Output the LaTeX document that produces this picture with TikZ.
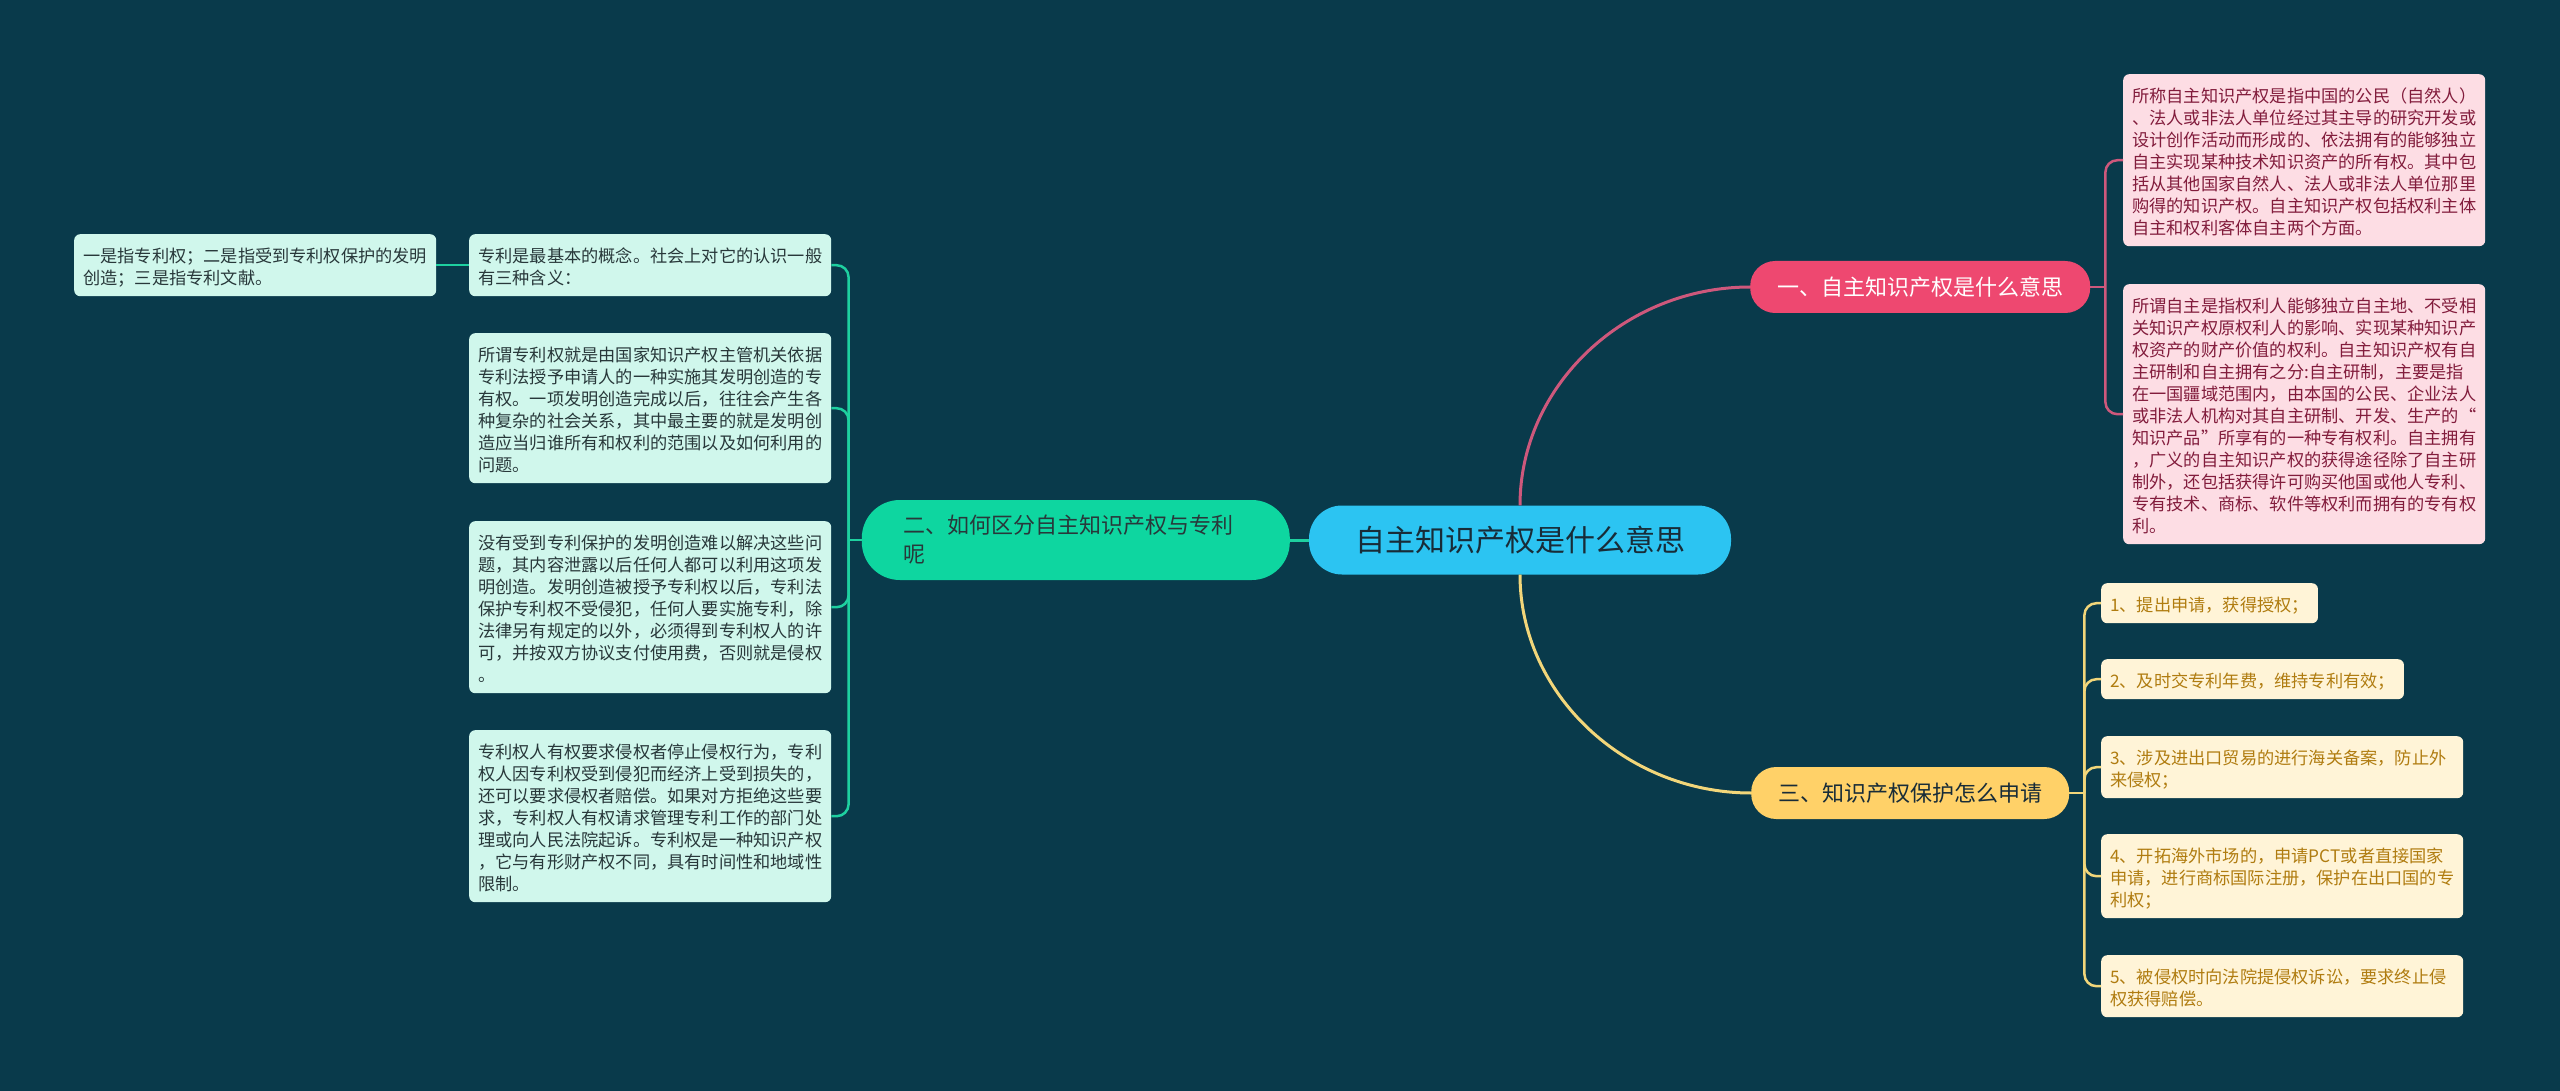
\documentclass[tikz,border=0pt]{standalone}
\usepackage{fontspec}
\setmainfont{Noto Sans CJK SC}
\usepackage{tikz}
\usetikzlibrary{positioning}
\definecolor{mapbg}{RGB}{9,58,75}
\definecolor{rootblue}{RGB}{44,196,242}
\definecolor{rootink}{RGB}{24,44,56}
\definecolor{topicpink}{RGB}{238,72,112}
\definecolor{topicgreen}{RGB}{14,214,160}
\definecolor{topicyellow}{RGB}{255,209,104}
\definecolor{pinkleaf}{RGB}{253,221,228}
\definecolor{pinkink}{RGB}{130,28,60}
\definecolor{pinkline}{RGB}{206,88,124}
\definecolor{mintleaf}{RGB}{208,247,236}
\definecolor{mintink}{RGB}{40,56,58}
\definecolor{mintline}{RGB}{30,208,160}
\definecolor{sandleaf}{RGB}{255,244,215}
\definecolor{sandink}{RGB}{176,124,16}
\definecolor{sandline}{RGB}{242,214,122}
\newcommand{\leafstrutT}{\rule{0pt}{19pt}}
\newcommand{\leafstrutB}{\rule[-3pt]{0pt}{3pt}}

\begin{document}
\begin{tikzpicture}[x=1pt, y=-1pt,
    rootnode/.style={fill=rootblue, text=rootink, rounded corners=33pt, inner xsep=46pt, inner ysep=0pt, minimum height=69pt, font=\fontsize{30}{36}\selectfont},
    topic/.style={rounded corners=25pt, inner xsep=27pt, inner ysep=0pt, minimum height=52pt, font=\fontsize{22}{29}\selectfont},
    leaf/.style={rounded corners=6pt, inner xsep=9pt, inner ysep=9pt, align=left, anchor=north west, font=\fontsize{17.2}{22}\selectfont, execute at begin node=\leafstrutT, execute at end node=\leafstrutB},
    wide/.style={text width=344pt},
    pinkleaf/.style={leaf, wide, fill=pinkleaf, text=pinkink},
    mintleaf/.style={leaf, wide, fill=mintleaf, text=mintink},
    sandleaf/.style={leaf, fill=sandleaf, text=sandink},
    link/.style={line width=3pt},
    twig/.style={line width=2.5pt, rounded corners=12pt}]

    \fill[mapbg] (0,0) rectangle (2560,1091);

    \node[rootnode] (root) at (1520,540) {自主知识产权是什么意思};

    \node[topic, fill=topicpink, text=white, anchor=west] (t1) at (1750,287) {一、自主知识产权是什么意思};
    \node[topic, fill=topicgreen, text=mintink, anchor=east, rounded corners=38pt, inner xsep=42pt, minimum height=80pt, text width=344pt, align=left] (t2) at (1290,540) {二、如何区分自主知识产权与专利\\呢};
    \node[topic, fill=topicyellow, text=rootink, anchor=west] (t3) at (1751,793) {三、知识产权保护怎么申请};

    \draw[link, pinkline] (root.north) .. controls +(0,-120) and +(-125,0) .. (t1.west);
    \draw[link, sandline] (root.south) .. controls +(0,120) and +(-125,0) .. (t3.west);
    \draw[link, mintline] (root.west) -- (t2.east);

    % branch one
    \node[pinkleaf] (pA) at (2123,74) {所称自主知识产权是指中国的公民（自然人）\\、法人或非法人单位经过其主导的研究开发或\\设计创作活动而形成的、依法拥有的能够独立\\自主实现某种技术知识资产的所有权。其中包\\括从其他国家自然人、法人或非法人单位那里\\购得的知识产权。自主知识产权包括权利主体\\自主和权利客体自主两个方面。};
    \node[pinkleaf] (pB) at (2123,284) {所谓自主是指权利人能够独立自主地、不受相\\关知识产权原权利人的影响、实现某种知识产\\权资产的财产价值的权利。自主知识产权有自\\主研制和自主拥有之分:自主研制，主要是指\\在一国疆域范围内，由本国的公民、企业法人\\或非法人机构对其自主研制、开发、生产的“\\知识产品”所享有的一种专有权利。自主拥有\\，广义的自主知识产权的获得途径除了自主研\\制外，还包括获得许可购买他国或他人专利、\\专有技术、商标、软件等权利而拥有的专有权\\利。};
    \draw[twig, pinkline] (t1.east) -- ++(15,0) coordinate (j1);
    \foreach \leafname in {pA,pB}
        \draw[twig, pinkline] (j1) |- (\leafname.west);

    % branch two
    \node[mintleaf] (gA) at (469,234) {专利是最基本的概念。社会上对它的认识一般\\有三种含义：};
    \node[mintleaf] (g0) at (74,234) {一是指专利权；二是指受到专利权保护的发明\\创造；三是指专利文献。};
    \node[mintleaf] (gB) at (469,333) {所谓专利权就是由国家知识产权主管机关依据\\专利法授予申请人的一种实施其发明创造的专\\有权。一项发明创造完成以后，往往会产生各\\种复杂的社会关系，其中最主要的就是发明创\\造应当归谁所有和权利的范围以及如何利用的\\问题。};
    \node[mintleaf] (gC) at (469,521) {没有受到专利保护的发明创造难以解决这些问\\题，其内容泄露以后任何人都可以利用这项发\\明创造。发明创造被授予专利权以后，专利法\\保护专利权不受侵犯，任何人要实施专利，除\\法律另有规定的以外，必须得到专利权人的许\\可，并按双方协议支付使用费，否则就是侵权\\。};
    \node[mintleaf] (gD) at (469,730) {专利权人有权要求侵权者停止侵权行为，专利\\权人因专利权受到侵犯而经济上受到损失的，\\还可以要求侵权者赔偿。如果对方拒绝这些要\\求，专利权人有权请求管理专利工作的部门处\\理或向人民法院起诉。专利权是一种知识产权\\，它与有形财产权不同，具有时间性和地域性\\限制。};
    \draw[twig, mintline] (t2.west) -- ++(-13,0) coordinate (j2);
    \foreach \leafname in {gA,gB,gC,gD}
        \draw[twig, mintline] (j2) |- (\leafname.east);
    \draw[twig, mintline] (gA.west) -- (g0.east);

    % branch three
    \node[sandleaf] (y1) at (2101,583) {1、提出申请，获得授权；};
    \node[sandleaf] (y2) at (2101,659) {2、及时交专利年费，维持专利有效；};
    \node[sandleaf, wide] (y3) at (2101,736) {3、涉及进出口贸易的进行海关备案，防止外\\来侵权；};
    \node[sandleaf, wide] (y4) at (2101,834) {4、开拓海外市场的，申请PCT或者直接国家\\申请，进行商标国际注册，保护在出口国的专\\利权；};
    \node[sandleaf, wide] (y5) at (2101,955) {5、被侵权时向法院提侵权诉讼，要求终止侵\\权获得赔偿。};
    \draw[twig, sandline] (t3.east) -- ++(15,0) coordinate (j3);
    \foreach \leafname in {y1,y2,y3,y4,y5}
        \draw[twig, sandline] (j3) |- (\leafname.west);
\end{tikzpicture}
\end{document}
